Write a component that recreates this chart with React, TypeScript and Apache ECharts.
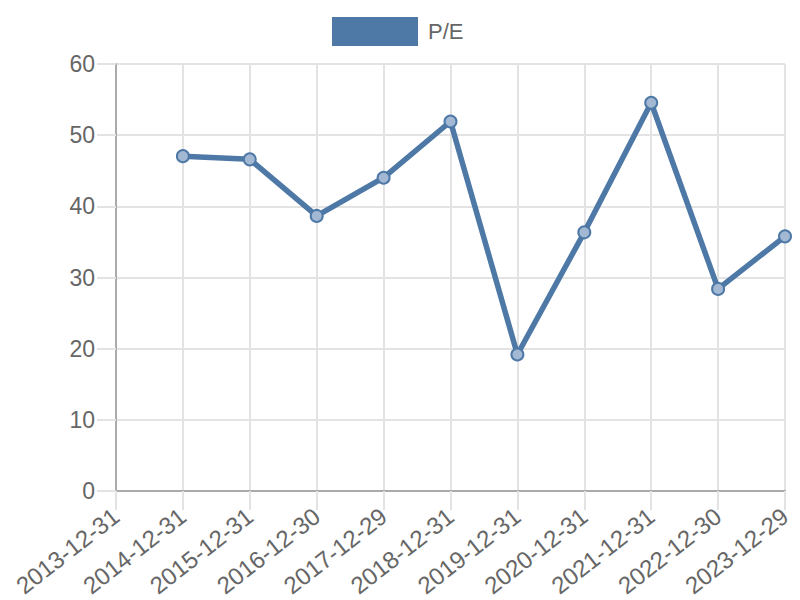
import React, { useEffect, useRef } from "react";
import * as echarts from "echarts";

const categories = [
  "2013-12-31",
  "2014-12-31",
  "2015-12-31",
  "2016-12-30",
  "2017-12-29",
  "2018-12-31",
  "2019-12-31",
  "2020-12-31",
  "2021-12-31",
  "2022-12-30",
  "2023-12-29",
];
const peValues: (number | null)[] = [null, 47.05, 46.6, 38.65, 44.02, 51.92, 19.18, 36.35, 54.55, 28.4, 35.78];
const seriesName = "P/E";

const FONT = "'Liberation Sans', Arial, Helvetica, sans-serif";
const TEXT = "#666666";
const BLUE = "#4e79a7";

export default function App() {
  const ref = useRef<HTMLDivElement>(null);
  useEffect(() => {
    if (!ref.current) return;
    const chart = echarts.init(ref.current, undefined, { renderer: "svg" });
    chart.setOption({
      animation: false,
      backgroundColor: "#ffffff",
      textStyle: { fontFamily: FONT },
      legend: {
        top: 12,
        left: 327,
        itemWidth: 86,
        itemHeight: 29,
        textStyle: { fontSize: 22, color: TEXT, fontFamily: FONT, padding: [0, 0, 0, 5] },
        data: [{ name: seriesName, icon: "rect", itemStyle: { color: BLUE, borderWidth: 0 } }],
      },
      grid: { left: 116, right: 15, top: 64, bottom: 109, containLabel: false },
      xAxis: {
        type: "category",
        data: categories,
        boundaryGap: false,
        axisLine: { show: true, lineStyle: { color: "#aaaaaa", width: 2 } },
        axisTick: { show: true, length: 19, alignWithLabel: true, lineStyle: { color: "#e3e3e3", width: 2 } },
        splitLine: { show: true, lineStyle: { color: "#e3e3e3", width: 2 } },
        axisLabel: {
          rotate: 38,
          margin: 22,
          fontSize: 24,
          color: TEXT,
          fontFamily: FONT,
          interval: 0,
        },
      },
      yAxis: {
        type: "value",
        min: 0,
        max: 60,
        interval: 10,
        axisLine: { show: true, lineStyle: { color: "#aaaaaa", width: 2 } },
        axisTick: { show: true, length: 19, lineStyle: { color: "#e3e3e3", width: 2 } },
        splitLine: { show: true, lineStyle: { color: "#e3e3e3", width: 2 } },
        axisLabel: { margin: 21, fontSize: 23, color: TEXT, fontFamily: FONT },
      },
      series: [
        {
          name: seriesName,
          type: "line",
          data: peValues,
          symbol: "circle",
          symbolSize: 12,
          showSymbol: true,
          connectNulls: false,
          lineStyle: { color: BLUE, width: 5.5 },
          itemStyle: { color: "rgba(163,184,211,1)", borderColor: BLUE, borderWidth: 2 },
          emphasis: { disabled: true },
        },
      ],
    });
    return () => chart.dispose();
  }, []);
  return (
    <div
      ref={ref}
      style={{ position: "fixed", left: 0, top: 0, width: 800, height: 600 }}
    />
  );
}
